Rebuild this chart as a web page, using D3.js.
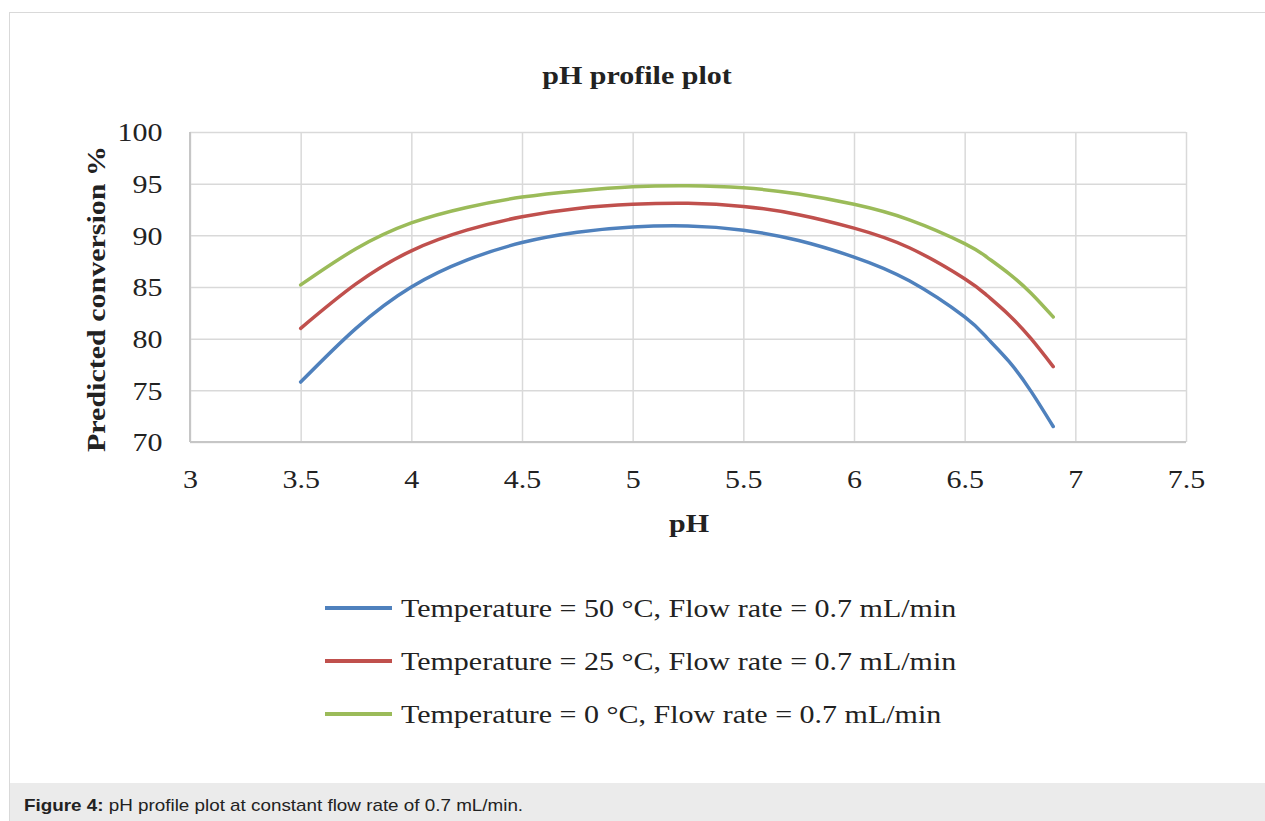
<!DOCTYPE html>
<meta charset="utf-8">
<style>
    body { margin: 0; background: #fff; }
    .serif { font-family: 'Liberation Serif', 'Times New Roman', serif; fill: #222; }
    .bold { font-weight: bold; }
    .grid line { stroke: #d9d9d9; stroke-width: 1.5; }
    .grid .domain { display: none; }
    .axis .domain { display: none; }
    .axis text { font-family: 'Liberation Serif', 'Times New Roman', serif; font-size: 25px; fill: #222; }
    .series { fill: none; stroke-width: 3.5; stroke-linecap: round; stroke-linejoin: round; }
    .caption { font-family: 'Liberation Sans', Arial, sans-serif; font-size: 15.7px; fill: #222; }
</style>
<svg width="1265" height="821"></svg>
<script src="https://d3js.org/d3.v7.min.js"></script>
<script>
    // values
    var phValues = [3.5, 3.75, 4, 4.25, 4.5, 4.75, 5, 5.25, 5.5, 5.75, 6, 6.25, 6.5, 6.6, 6.7, 6.8, 6.9];
    var conv50 = [75.8, 81.0, 85.0, 87.6, 89.3, 90.3, 90.8, 90.9, 90.5, 89.5, 87.9, 85.6, 82.1, 80.1, 77.8, 74.9, 71.5];
    var conv25 = [81.0, 85.3, 88.5, 90.5, 91.8, 92.6, 93.0, 93.1, 92.8, 92.0, 90.7, 88.8, 85.8, 84.2, 82.3, 80.0, 77.3];
    var conv0 = [85.2, 88.7, 91.2, 92.7, 93.7, 94.3, 94.7, 94.8, 94.6, 94.0, 93.0, 91.5, 89.2, 87.9, 86.3, 84.4, 82.1];
    var seriesNames = [
        "Temperature = 50 \u00B0C, Flow rate = 0.7 mL/min",
        "Temperature = 25 \u00B0C, Flow rate = 0.7 mL/min",
        "Temperature = 0 \u00B0C, Flow rate = 0.7 mL/min"
    ];
    var seriesColors = ["#4f81bd", "#c0504d", "#9bbb59"];
    var xTicks = [3, 3.5, 4, 4.5, 5, 5.5, 6, 6.5, 7, 7.5];
    var yTicks = [70, 75, 80, 85, 90, 95, 100];

    var SX = 1.2; // the picture's text is a bit wide

    var svg = d3.select("svg");
    var plotL = 190, plotR = 1186, plotT = 132, plotB = 442;

    var x = d3.scaleLinear().domain([3, 7.5]).range([plotL, plotR]);
    var y = d3.scaleLinear().domain([70, 100]).range([plotB, plotT]);

    // outer frame and caption bar
    svg.append("rect")
        .attr("x", 9.5).attr("y", 12.5)
        .attr("width", 1300).attr("height", 900)
        .attr("fill", "#fff").attr("stroke", "#d9d9d9");
    svg.append("rect")
        .attr("x", 10).attr("y", 783)
        .attr("width", 1255).attr("height", 38)
        .attr("fill", "#ebebeb");

    function label(x0, y0, txt, size, bold, rot) {
        var g = svg.append("g")
            .attr("transform", "translate(" + x0 + "," + y0 + ")" + (rot ? " rotate(" + rot + ")" : "") + " scale(" + SX + ",1)");
        return g.append("text")
            .attr("class", "serif" + (bold ? " bold" : ""))
            .attr("text-anchor", "middle")
            .style("font-size", size + "px")
            .text(txt);
    }

    // grid
    svg.append("g")
        .attr("class", "grid")
        .attr("transform", "translate(0," + plotB + ")")
        .call(d3.axisBottom(x).tickValues(xTicks).tickSize(-(plotB - plotT)).tickFormat(""));
    svg.append("g")
        .attr("class", "grid")
        .attr("transform", "translate(" + plotL + ",0)")
        .call(d3.axisLeft(y).tickValues(yTicks).tickSize(-(plotR - plotL)).tickFormat(""));

    svg.append("line")
        .attr("x1", plotL).attr("x2", plotL).attr("y1", plotT).attr("y2", plotB)
        .attr("stroke", "#c6c6c6").attr("stroke-width", 2);
    svg.append("line")
        .attr("x1", plotL).attr("x2", plotR).attr("y1", plotB).attr("y2", plotB)
        .attr("stroke", "#c6c6c6").attr("stroke-width", 2);

    // axes
    var yAxis = svg.append("g")
        .attr("class", "axis")
        .attr("transform", "translate(" + plotL + ",0)")
        .call(d3.axisLeft(y).tickValues(yTicks).tickSize(0).tickPadding(23));
    yAxis.selectAll("text").attr("transform", "scale(" + SX + ",1)").attr("dy", "0.35em");

    var xAxis = svg.append("g")
        .attr("class", "axis")
        .attr("transform", "translate(0," + plotB + ")")
        .call(d3.axisBottom(x).tickValues(xTicks).tickSize(0).tickPadding(28).tickFormat(d3.format("~g")));
    xAxis.selectAll("text").attr("transform", "scale(" + SX + ",1)");

    // lines
    var allSeries = [conv50, conv25, conv0];
    var line = d3.line()
        .x(function(d, i) { return x(phValues[i]); })
        .y(function(d) { return y(d); })
        .curve(d3.curveNatural);

    svg.append("g")
        .selectAll("path")
        .data(allSeries)
        .enter().append("path")
        .attr("class", "series")
        .attr("stroke", function(d, i) { return seriesColors[i]; })
        .attr("d", line);

    // titles
    label(637, 84, "pH profile plot", 25, true);
    label(689, 532, "pH", 25, true);
    label(105, 299, "Predicted conversion %", 25, true, -90);

    // legend
    var legendY = d3.scalePoint().domain(d3.range(seriesNames.length)).range([608, 714]);
    seriesNames.forEach(function(name, i) {
        var ly = legendY(i);
        svg.append("line")
            .attr("x1", 325).attr("x2", 392)
            .attr("y1", ly).attr("y2", ly)
            .attr("stroke", seriesColors[i])
            .attr("stroke-width", 4);
        label(401, ly + 9, name, 25, false).attr("text-anchor", "start");
    });

    // caption
    var cap = svg.append("g")
        .attr("transform", "translate(24,811) scale(" + SX + ",1)")
        .append("text")
        .attr("class", "caption");
    cap.append("tspan").style("font-weight", "bold").text("Figure 4:");
    cap.append("tspan").text(" pH profile plot at constant flow rate of 0.7 mL/min.");
</script>
